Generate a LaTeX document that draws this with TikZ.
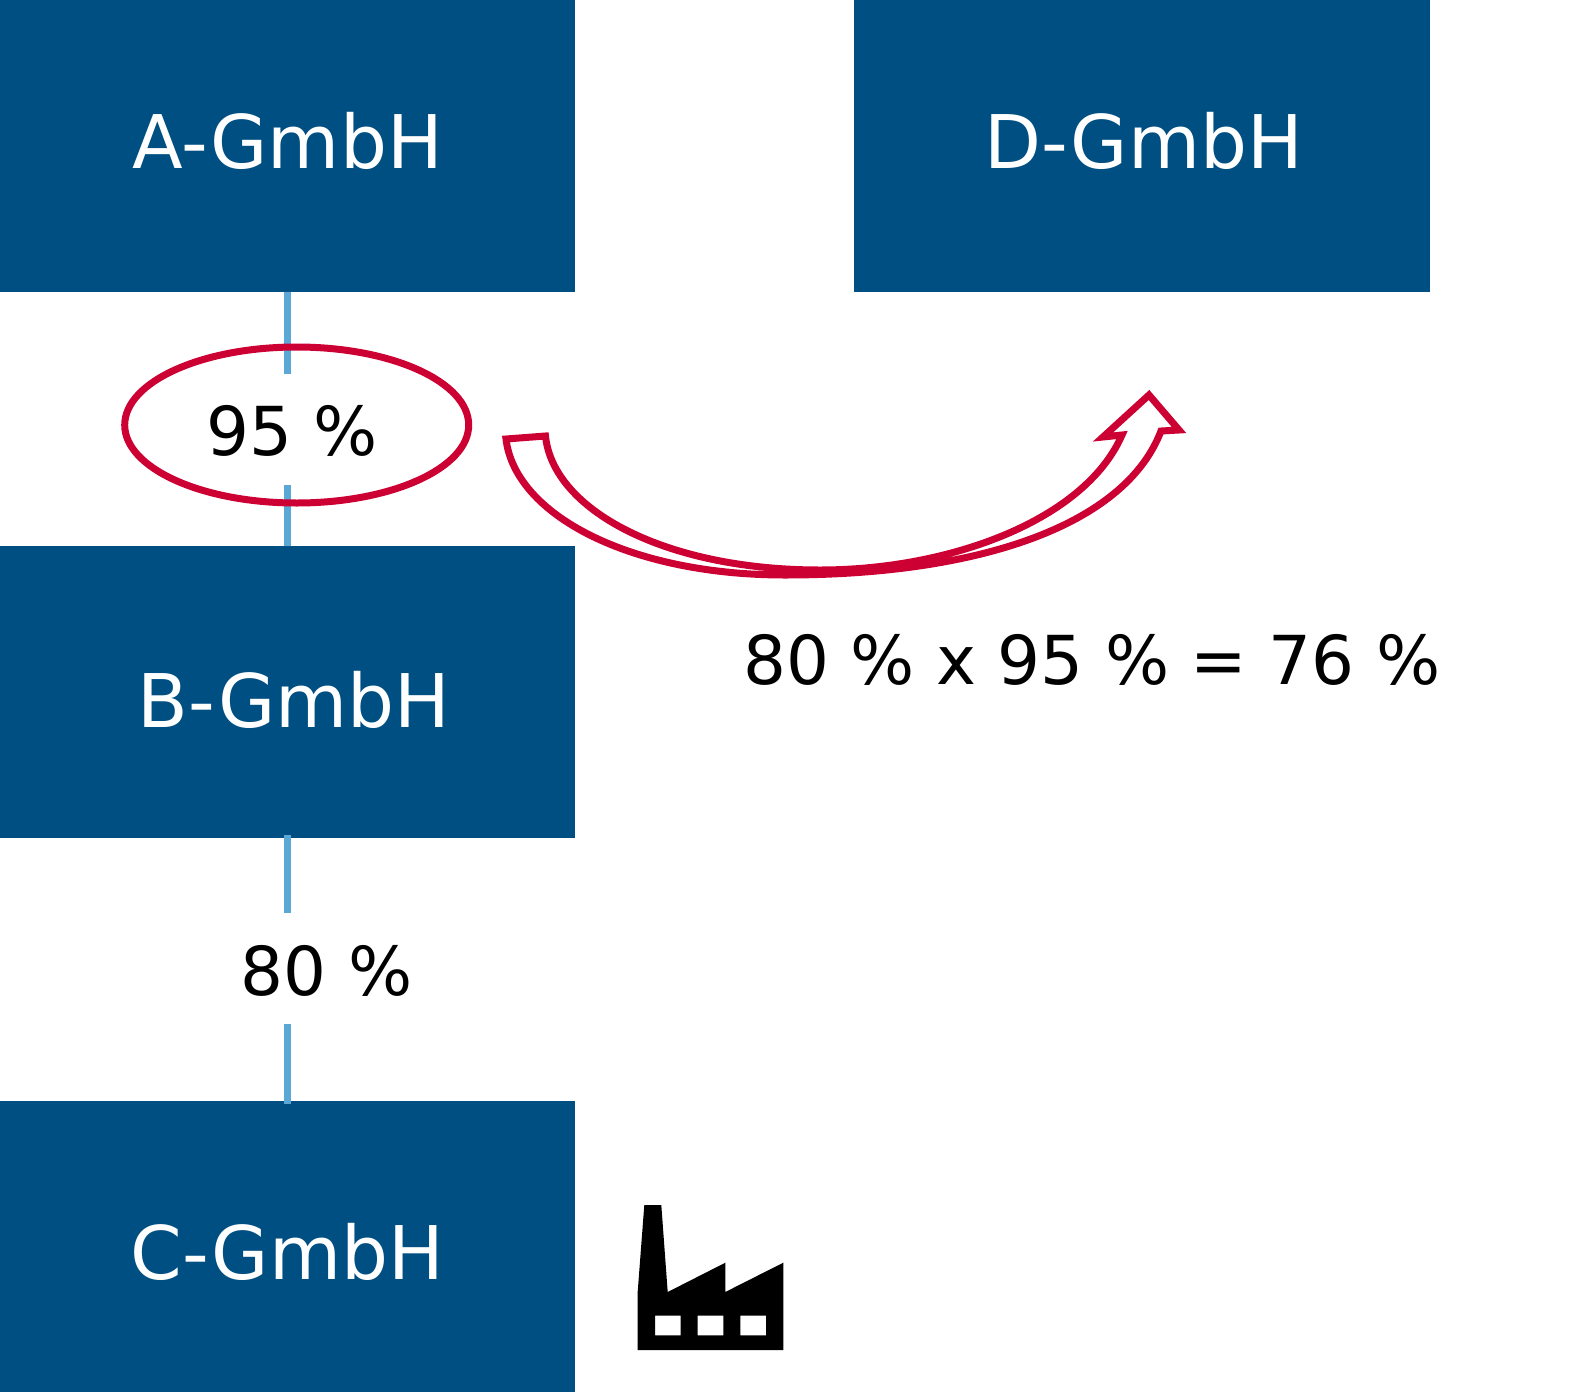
\documentclass[tikz,border=0pt]{standalone}
\usepackage{fontspec}
\setmainfont{DejaVu Sans}
\usetikzlibrary{positioning,shapes.geometric,calc}
\definecolor{boxblue}{RGB}{0,79,130}
\definecolor{linkblue}{RGB}{91,167,214}
\definecolor{markred}{RGB}{204,0,51}

\begin{document}
\begin{tikzpicture}[
    x=1pt, y=-1pt,
    company/.style={fill=boxblue, text=white, minimum width=575pt, minimum height=292pt, inner sep=0pt, outer sep=0pt, font=\fontsize{74}{80}\selectfont},
    share/.style={inner sep=0pt, outer sep=0pt, font=\fontsize{67.5}{74}\selectfont},
    link/.style={linkblue, line width=7pt},
    redline/.style={draw=markred, line width=7pt}
  ]
    \useasboundingbox (0,0) rectangle (1572,1392);

    \node[company, text height=56pt, text depth=12pt] (agmbh) at (287.5,146) {A-GmbH};
    \node[company, text height=56pt, text depth=12pt, right=279pt of agmbh, minimum width=575.5pt] (dgmbh) {\hspace*{4pt}D-GmbH};
    \node[company, text height=72pt, below=254pt of agmbh] (bgmbh) {\hspace*{13pt}B-GmbH};
    \node[company, text height=66pt, below=263pt of bgmbh] (cgmbh) {C-GmbH};

    \node[share] (p95) at (292,431) {95 \%};
    \node[share] (p80) at (326.5,971) {80 \%};
    \node[share] (result) at (1092,660) {80 \% x 95 \% = 76 \%};

    \coordinate (a95) at ($(agmbh.south)+(0,82)$);
    \coordinate (b95) at ($(bgmbh.north)+(0,-61)$);
    \coordinate (b80) at ($(bgmbh.south)+(0,75)$);
    \coordinate (c80) at ($(cgmbh.north)+(0,-77)$);
    \draw[link] (agmbh.south) -- (a95);
    \draw[link] (b95) -- (bgmbh.north);
    \draw[link, shorten <=-3pt] (bgmbh.south) -- (b80);
    \draw[link, shorten >=-3pt] (c80) -- (cgmbh.north);

    \node[redline, ellipse, minimum width=344pt, minimum height=156pt, inner sep=0pt, outer sep=0pt] (ring) at (296.7,425) {};

    % curved arrow
    \draw[redline, line join=miter] (506,439) -- (545.5,436)
      .. controls (553,510) and (665,570) .. (820,570)
      .. controls (950,570) and (1085,520) .. (1122,435)
      -- (1103,437) -- (1149,395) -- (1179,430) -- (1161,431)
      .. controls (1125,525) and (980,575) .. (785,575)
      .. controls (630,575) and (515,515) .. (506,439) -- cycle;

    % factory
    \fill[black, even odd rule] (637.7,1350) -- (637.7,1291.7) -- (644.3,1205) -- (661.3,1205) -- (667.7,1292)
      -- (725.3,1262.7) -- (725.3,1292) -- (783.3,1262.7) -- (783.3,1350) -- cycle
      (655,1315.7) rectangle (680.7,1335.3)
      (697.7,1315.7) rectangle (723.3,1335.3)
      (740.3,1315.7) rectangle (766,1335.3);
  \end{tikzpicture}
\end{document}
